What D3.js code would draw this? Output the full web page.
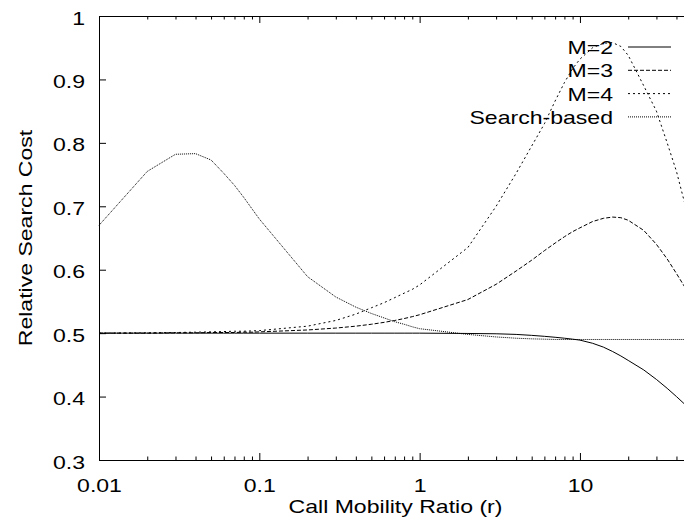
<!DOCTYPE html>
<html>
<head>
<meta charset="utf-8">
<script src="https://cdn.jsdelivr.net/npm/d3@7"></script>
<style>
  html, body { margin: 0; padding: 0; background: #fff; }
  svg { display: block; }
  text { font-family: "Liberation Sans", Arial, Helvetica, sans-serif; fill: #000; }
</style>
</head>
<body>
<script>
// Call-to-mobility ratio samples (x) and relative search cost of each strategy
const rValues = [0.01,0.02,0.03,0.04,0.05,0.06,0.07,0.08,0.09,
                 0.1,0.2,0.3,0.4,0.5,0.6,0.7,0.8,0.9,
                 1,2,3,4,5,6,7,8,9,
                 10,12,14,16,18,20,25,30,35,40,45,50];

const costM2 = [0.5,0.5,0.5,0.5,0.5,0.5,0.5,0.5,0.5,
                0.5,0.5,0.5,0.5,0.5,0.5,0.5,0.5,0.5,
                0.5,0.4995,0.499,0.498,0.4965,0.495,0.4935,0.492,0.4905,
                0.489,0.484,0.478,0.471,0.464,0.457,0.442,0.427,0.413,0.400,0.388,0.376];

const costM3 = [0.500,0.500,0.5005,0.5005,0.501,0.501,0.501,0.5015,0.5015,
                0.502,0.505,0.508,0.511,0.514,0.517,0.520,0.523,0.526,
                0.529,0.553,0.577,0.598,0.615,0.630,0.642,0.652,0.660,
                0.666,0.676,0.681,0.683,0.682,0.678,0.662,0.640,0.617,0.594,0.573,0.552];

const costM4 = [0.500,0.5005,0.501,0.5015,0.502,0.5025,0.503,0.503,0.5035,
                0.504,0.511,0.520,0.530,0.540,0.548,0.556,0.563,0.569,
                0.576,0.635,0.700,0.752,0.795,0.830,0.866,0.895,0.917,
                0.932,0.950,0.957,0.958,0.952,0.938,0.890,0.850,0.800,0.755,0.705,0.660];

const costSearch = [0.670,0.755,0.782,0.783,0.773,0.752,0.733,0.714,0.696,
                    0.680,0.589,0.557,0.541,0.531,0.524,0.518,0.514,0.510,
                    0.507,0.498,0.494,0.492,0.491,0.4905,0.490,0.490,0.490,
                    0.490,0.490,0.490,0.490,0.490,0.490,0.490,0.490,0.490,0.490,0.490,0.490];

const seriesNames = ["M=2", "M=3", "M=4", "Search-based"];
const seriesDash  = [null, "4,2", "2,3", "1,1"];

const xMajorTicks = [0.01, 0.1, 1, 10];
const xTickLabels = ["0.01", "0.1", "1", "10"];
const xMinorTicks = [0.02,0.03,0.04,0.05,0.06,0.07,0.08,0.09,
                     0.2,0.3,0.4,0.5,0.6,0.7,0.8,0.9,
                     2,3,4,5,6,7,8,9,20,30,40,50];
const yTicks = [0.3,0.4,0.5,0.6,0.7,0.8,0.9,1];
const yTickLabels = ["0.3","0.4","0.5","0.6","0.7","0.8","0.9","1"];

const W = 684, H = 527;
const plotLeft = 99, plotTop = 16, plotBottom = 460, plotRight = 692;
const FS = 18.6;      // font size
const SX = 1.24;      // wide face: horizontal stretch of glyphs

const svg = d3.select("body").append("svg")
  .attr("width", W).attr("height", H)
  .style("overflow", "hidden");

const x = d3.scaleLog().domain([0.01, 50]).range([plotLeft, plotRight]);
const y = d3.scaleLinear().domain([0.3, 1]).range([plotBottom, plotTop]);

function styleAxis(g) {
  g.selectAll("path.domain").attr("stroke", "#000").attr("stroke-width", 1);
  g.selectAll(".tick line").attr("stroke", "#000").attr("stroke-width", 1);
}

// frame + ticks (inward)
const gBottomMinor = svg.append("g").attr("transform", `translate(0,${plotBottom})`)
  .call(d3.axisBottom(x).tickValues(xMinorTicks).tickSize(-3.5).tickSizeOuter(0).tickFormat(""));
const gBottom = svg.append("g").attr("transform", `translate(0,${plotBottom})`)
  .call(d3.axisBottom(x).tickValues(xMajorTicks).tickSize(-7).tickSizeOuter(0)
        .tickFormat((d, i) => xTickLabels[i]));
const gTopMinor = svg.append("g").attr("transform", `translate(0,${plotTop})`)
  .call(d3.axisTop(x).tickValues(xMinorTicks).tickSize(-3.5).tickSizeOuter(0).tickFormat(""));
const gTop = svg.append("g").attr("transform", `translate(0,${plotTop})`)
  .call(d3.axisTop(x).tickValues(xMajorTicks).tickSize(-7).tickSizeOuter(0).tickFormat(""));
const gLeft = svg.append("g").attr("transform", `translate(${plotLeft},0)`)
  .call(d3.axisLeft(y).tickValues(yTicks).tickSize(-7).tickSizeOuter(0)
        .tickFormat((d, i) => yTickLabels[i]));
const gRight = svg.append("g").attr("transform", `translate(${plotRight},0)`)
  .call(d3.axisRight(y).tickValues(yTicks).tickSize(-7).tickSizeOuter(0).tickFormat(""));

[gBottomMinor, gBottom, gTopMinor, gTop, gLeft, gRight].forEach(styleAxis);

gBottom.selectAll(".tick text")
  .attr("x", null).attr("y", null).attr("dy", null)
  .attr("font-size", FS).attr("text-anchor", "middle")
  .attr("transform", `translate(0,32) scale(${SX},1)`);

gLeft.selectAll(".tick text")
  .attr("x", null).attr("y", null).attr("dy", null)
  .attr("font-size", FS).attr("text-anchor", "end")
  .attr("transform", `translate(-14,8) scale(${SX},1)`);

// axis titles
svg.append("text")
  .attr("font-size", FS).attr("text-anchor", "middle")
  .attr("transform", `translate(${(plotLeft + plotRight) / 2},513) scale(${SX},1)`)
  .text("Call Mobility Ratio (r)");

svg.append("text")
  .attr("font-size", FS).attr("text-anchor", "middle")
  .attr("transform", `translate(32,${(plotTop + plotBottom) / 2}) rotate(-90) scale(${SX},1)`)
  .text("Relative Search Cost");

// curves
const seriesValues = [costM2, costM3, costM4, costSearch];
const line = d3.line().x(d => x(d[0])).y(d => y(d[1]));

seriesValues.forEach((vals, i) => {
  svg.append("path")
    .datum(rValues.map((r, k) => [r, vals[k]]))
    .attr("fill", "none")
    .attr("stroke", "#000")
    .attr("stroke-width", 1)
    .attr("stroke-dasharray", seriesDash[i])
    .attr("d", line);
});

// key
const key = svg.append("g");
seriesNames.forEach((name, i) => {
  const base = 54 + i * 23.3;
  key.append("text")
    .attr("font-size", FS).attr("text-anchor", "end")
    .attr("transform", `translate(613,${base}) scale(${SX},1)`)
    .text(name);
  key.append("line")
    .attr("x1", 628).attr("x2", 671)
    .attr("y1", base - 7).attr("y2", base - 7)
    .attr("stroke", "#000").attr("stroke-width", 1)
    .attr("stroke-dasharray", seriesDash[i]);
});
</script>
</body>
</html>
